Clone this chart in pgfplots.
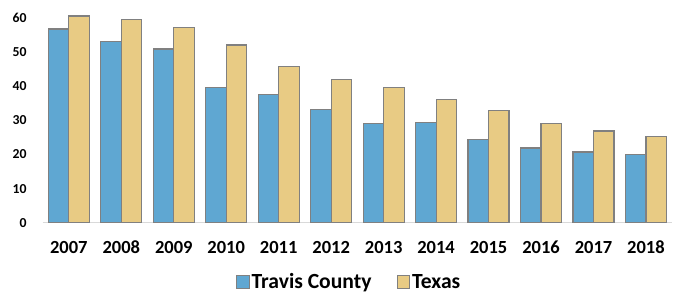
\documentclass[border=0pt]{standalone}
\usepackage{pgfplots}
\pgfplotsset{compat=1.18}
\usepackage{fontspec}
\setmainfont{Carlito}
\definecolor{travis}{RGB}{95,167,210}
\definecolor{texas}{RGB}{232,203,132}
\definecolor{edge}{RGB}{128,128,128}
\definecolor{axisgray}{RGB}{217,217,217}
\begin{document}
\begin{tikzpicture}[x=1pt,y=1pt]
\useasboundingbox (0,0) rectangle (676,294);
\begin{axis}[
  at={(42.6pt,71.3pt)}, anchor=south west,
  scale only axis, width=629.6pt, height=221.7pt,
  ybar=0pt, bar width=20.5pt,
  xmin=-0.5, xmax=11.5, ymin=0, ymax=65,
  axis x line=bottom, axis y line=left,
  x axis line style={draw=axisgray, line width=1pt, -},
  y axis line style={draw=none},
  xtick={0,...,11},
  xticklabels={2007,2008,2009,2010,2011,2012,2013,2014,2015,2016,2017,2018},
  ytick={0,10,...,60},
  major tick length=0pt,
  xticklabel style={font=\fontsize{18.5}{18}\selectfont\bfseries, anchor=base, inner sep=0pt, yshift=-30.6pt},
  yticklabel style={font=\fontsize{13.7}{14}\selectfont\bfseries, anchor=east, inner sep=0pt, xshift=-15.9pt},
  /pgf/number format/assume math mode=true,
  legend columns=2,
  legend style={at={(axis description cs:0.487,-0.268)}, anchor=center, draw=none, fill=none,
    font=\fontsize{21.6}{22}\selectfont\bfseries,
    /tikz/every even column/.append style={column sep=23pt},
    inner sep=0pt},
  legend image code/.code={\draw[#1, line width=1pt] (0pt,-6.25pt) rectangle (12.5pt,6.25pt);},
  every axis plot/.append style={draw=edge, line width=1.2pt},
]
\addplot[fill=travis] coordinates {(0,56.8) (1,53.2) (2,50.9) (3,39.6) (4,37.6) (5,33.1) (6,29.0) (7,29.3) (8,24.5) (9,21.9) (10,20.7) (11,19.9)};
\addplot[fill=texas] coordinates {(0,60.6) (1,59.6) (2,57.3) (3,52.1) (4,45.7) (5,42.1) (6,39.6) (7,36.2) (8,32.8) (9,29.0) (10,26.9) (11,25.2)};
\legend{Travis County, Texas}
\end{axis}
\end{tikzpicture}
\end{document}
